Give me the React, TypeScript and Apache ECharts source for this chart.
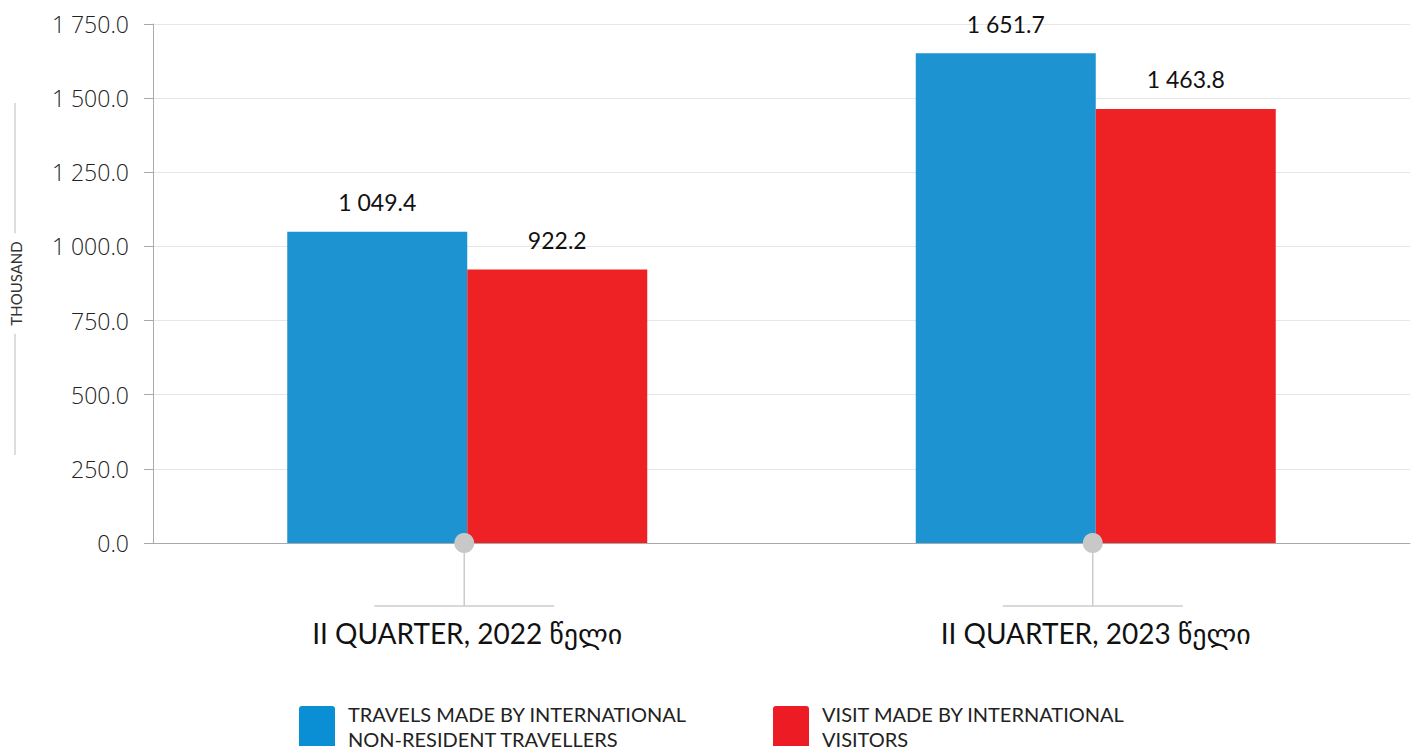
import React, { useEffect, useRef } from "react";
import * as echarts from "echarts";

const categories = ["II QUARTER, 2022 წელი", "II QUARTER, 2023 წელი"];
const travelsValues = [1049.4, 1651.7];
const visitsValues = [922.2, 1463.8];
const seriesNames = [
  "TRAVELS MADE BY INTERNATIONAL\nNON-RESIDENT TRAVELLERS",
  "VISIT MADE BY INTERNATIONAL\nVISITORS",
];
const yTicks = { min: 0, max: 1750, interval: 250 };
const axisName = "THOUSAND";

const FONT = "'Open Sans', 'DejaVu Sans', sans-serif";
const FONT2 = "Lato, 'DejaVu Sans', sans-serif";

function fmt(v: number): string {
  const s = v.toFixed(1);
  const [i, d] = s.split(".");
  const withSep = i.replace(/\B(?=(\d{3})+(?!\d))/g, " ");
  return withSep + "." + d;
}

export default function App() {
  const ref = useRef<HTMLDivElement>(null);
  useEffect(() => {
    if (!ref.current) return;
    const chart = echarts.init(ref.current, undefined, { renderer: "svg" });
    const legendBase = {
      top: 701,
      padding: 0,
      itemWidth: 36,
      itemHeight: 40,
      itemGap: 0,
      icon: "path://M3,0 L33,0 Q36,0 36,3 L36,40 L0,40 L0,3 Q0,0 3,0 Z",
      textStyle: {
        fontSize: 20,
        lineHeight: 25,
        color: "#222",
        fontFamily: FONT2,
        padding: [0, 0, 0, 8],
      },
      selectedMode: false,
    };
    const option: any = {
      animation: false,
      textStyle: { fontFamily: FONT },
      grid: { left: 146, right: 5, top: 24, bottom: 208, containLabel: false },
      legend: [
        {
          ...legendBase,
          data: [{ name: seriesNames[0], itemStyle: { color: "#0b8fd4" } }],
          left: 299,
        },
        {
          ...legendBase,
          data: [{ name: seriesNames[1], itemStyle: { color: "#ed1c24" } }],
          left: 773,
        },
      ],
      xAxis: {
        type: "category",
        data: categories,
        axisLine: { lineStyle: { color: "#aaaaaa", width: 1 } },
        axisTick: { show: false },
        axisLabel: {
          fontSize: 28,
          color: "#111",
          margin: 76,
          fontFamily: FONT2,
        },
      },
      yAxis: {
        type: "value",
        min: yTicks.min,
        max: yTicks.max,
        interval: yTicks.interval,
        name: axisName,
        nameLocation: "middle",
        nameRotate: 90,
        nameGap: 130,
        nameTextStyle: {
          fontSize: 15,
          color: "#333",
          fontFamily: FONT2,
          backgroundColor: "#fff",
          padding: [0, 8],
        },
        axisLine: { show: true, lineStyle: { color: "#aaaaaa", width: 1 } },
        axisTick: { show: true, length: 9, lineStyle: { color: "#aaaaaa" } },
        axisLabel: {
          fontSize: 23,
          fontWeight: 300,
          color: "#222",
          margin: 24,
          fontFamily: FONT,
          formatter: (v: number) => fmt(v),
        },
        splitLine: { lineStyle: { color: "#e6e6e6", width: 1 } },
      },
      graphic: [
        {
          type: "line",
          shape: { x1: 15, y1: 103, x2: 15, y2: 455 },
          style: { stroke: "#bbbbbb", lineWidth: 1 },
          z: -1,
        },
      ],
      series: [
        {
          name: seriesNames[0],
          type: "bar",
          data: travelsValues,
          barWidth: 180,
          barGap: "0%",
          itemStyle: { color: "#1e93d2" },
          label: {
            show: true,
            position: "top",
            distance: 18,
            fontSize: 23,
            color: "#111",
            fontFamily: FONT2,
            formatter: (p: any) => fmt(p.value),
          },
        },
        {
          name: seriesNames[1],
          type: "bar",
          data: visitsValues,
          barWidth: 180,
          barGap: "0%",
          itemStyle: { color: "#ee2125" },
          label: {
            show: true,
            position: "top",
            distance: 18,
            fontSize: 23,
            color: "#111",
            fontFamily: FONT2,
            formatter: (p: any) => fmt(p.value),
          },
        },
        {
          type: "custom",
          z: 10,
          clip: false,
          silent: true,
          data: categories.map((_, i) => [i, 0]),
          renderItem: (params: any, api: any) => {
            const p = api.coord([api.value(0), api.value(1)]);
            const x = p[0] - 3;
            const y = p[1];
            return {
              type: "group",
              children: [
                {
                  type: "line",
                  shape: { x1: x, y1: y, x2: x, y2: y + 63 },
                  style: { stroke: "#cccccc", lineWidth: 1.5 },
                },
                {
                  type: "line",
                  shape: { x1: x - 90, y1: y + 63, x2: x + 90, y2: y + 63 },
                  style: { stroke: "#cccccc", lineWidth: 1.5 },
                },
                {
                  type: "circle",
                  shape: { cx: x, cy: y, r: 10 },
                  style: { fill: "#c8c8c8" },
                },
              ],
            };
          },
        },
      ],
    };
    chart.setOption(option);
    return () => chart.dispose();
  }, []);
  return <div ref={ref} style={{ width: 1415, height: 751, position: "absolute", left: 0, top: 0 }} />;
}
